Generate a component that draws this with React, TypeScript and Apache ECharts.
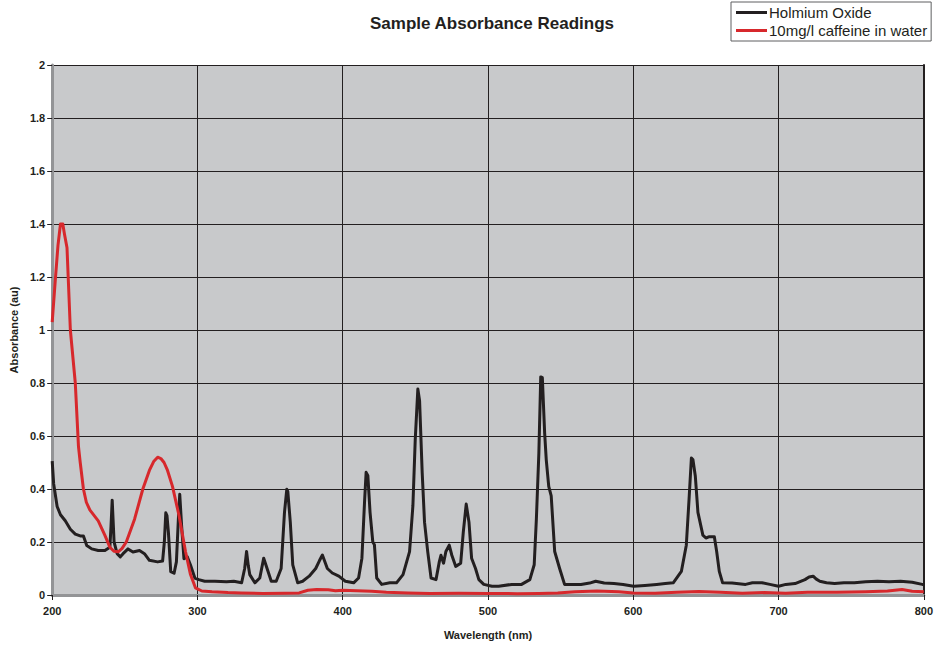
import React, { useEffect, useRef } from "react";
import * as echarts from "echarts";

// Wavelength scans (nm) and absorbance readings (au)
const holmiumNm = [
  200, 201, 203.4, 205.7, 209, 212.5, 215.9, 219.3, 221.5, 223.8, 227.2, 231.7, 236.3, 239.7,
  240.5, 241.3, 242.2, 242.6, 244.7, 246.9, 248.8, 252.2, 255.6, 260.1, 263.5, 266.9, 272.6, 276,
  277.2, 278.2, 279, 280, 281.6, 283.9, 285.5, 286.8, 287.8, 289.1, 290.7, 293, 295.2, 298.2,
  300.9, 305, 312, 320, 325, 330.4, 332.5, 333.8, 335, 336, 339.5, 342.9, 345.6, 348.6, 350.8,
  354.2, 357.6, 359.9, 361.5, 362.2, 363.9, 365.6, 369, 372.4, 376.9, 381.4, 384, 386, 389.4,
  392.8, 397.3, 401.8, 407.5, 410.9, 413.2, 415, 416.1, 417.3, 418.8, 420.7, 421.8, 423.4, 426.8,
  432.4, 437, 441.5, 446, 448.3, 449.9, 451.7, 452.9, 454.7, 456.3, 458.5, 460.8, 464.2, 466.5,
  467.6, 469.4, 471, 473.3, 475.1, 477.8, 481.2, 483, 485, 486.9, 488.7, 491.4, 493.7, 497.1,
  502.7, 507.3, 516.3, 523.1, 528.8, 531.8, 533.3, 535, 536.3, 537.4, 539, 540.1, 541.8, 543.5,
  545.9, 549.3, 552.7, 564, 570, 574.1, 580, 586.7, 593, 600.3, 608, 616.1, 622, 627.5, 633.1,
  636.5, 638.4, 640, 641.1, 642.7, 644.5, 647.9, 650, 652.4, 655.8, 657.4, 659.2, 661.5, 668,
  677.3, 682, 688.7, 694, 700, 705, 711.4, 718.2, 721, 723.8, 726, 728.4, 733, 738.6, 745, 752.2,
  760, 768.1, 776, 784, 792, 798.9, 800,
];
const holmiumAbs = [
  0.505, 0.42, 0.334, 0.303, 0.28, 0.248, 0.23, 0.223, 0.223, 0.187, 0.174, 0.168, 0.168, 0.18,
  0.26, 0.358, 0.25, 0.2, 0.156, 0.144, 0.156, 0.174, 0.162, 0.168, 0.156, 0.131, 0.125, 0.128,
  0.2, 0.31, 0.3, 0.236, 0.088, 0.082, 0.125, 0.28, 0.38, 0.26, 0.137, 0.144, 0.113, 0.064,
  0.058, 0.052, 0.052, 0.05, 0.052, 0.046, 0.1, 0.164, 0.11, 0.077, 0.046, 0.064, 0.139, 0.089, 0.052,
  0.052, 0.1, 0.312, 0.399, 0.39, 0.275, 0.114, 0.046, 0.052, 0.071, 0.1, 0.13, 0.151, 0.1,
  0.083, 0.071, 0.052, 0.046, 0.064, 0.139, 0.35, 0.463, 0.45, 0.312, 0.2, 0.19, 0.064, 0.04,
  0.046, 0.046, 0.077, 0.164, 0.337, 0.585, 0.777, 0.733, 0.461, 0.275, 0.164, 0.064, 0.058, 0.126,
  0.15, 0.12, 0.164, 0.188, 0.15, 0.108, 0.12, 0.238, 0.343, 0.275, 0.139, 0.1, 0.058, 0.04,
  0.033, 0.033, 0.04, 0.04, 0.058, 0.114, 0.287, 0.535, 0.823, 0.82, 0.61, 0.51, 0.41, 0.374,
  0.164, 0.1, 0.04, 0.04, 0.045, 0.052, 0.045, 0.043, 0.04, 0.033, 0.036, 0.04, 0.043, 0.046, 0.089,
  0.188, 0.362, 0.517, 0.51, 0.449, 0.312, 0.226, 0.215, 0.22, 0.22, 0.164, 0.089, 0.046, 0.045,
  0.04, 0.046, 0.046, 0.04, 0.033, 0.04, 0.043, 0.058, 0.068, 0.071, 0.06, 0.052, 0.046, 0.043, 0.046, 0.046,
  0.05, 0.052, 0.05, 0.052, 0.048, 0.04, 0.038,
];

const caffeineNm = [
  200, 202.3, 204, 205.7, 207.3, 208.5, 210.2, 212.5, 215.9, 218.1, 219.3, 221.5, 223.5, 226,
  231.7, 236.3, 239.7, 242.5, 245.4, 248, 251, 256.7, 262.4, 266.9, 270, 272.6, 274.8, 277,
  279.4, 282.8, 287.3, 291.8, 295.2, 298.6, 303, 310, 321, 330, 345, 360, 370, 376, 382, 390,
  395, 400, 410, 420, 430, 445, 460, 480, 500, 520, 535, 548, 560, 575, 590, 600, 615, 630, 645,
  660, 675, 690, 705, 720, 740, 760, 775, 785, 792, 800,
];
const caffeineAbs = [
  1.03, 1.2, 1.32, 1.4, 1.4, 1.36, 1.31, 1.0, 0.8, 0.56, 0.5, 0.4, 0.35, 0.32,
  0.28, 0.225, 0.18, 0.165, 0.163, 0.175, 0.2, 0.286, 0.4, 0.47, 0.505, 0.52, 0.515, 0.5,
  0.47, 0.41, 0.3, 0.163, 0.077, 0.027, 0.015, 0.012, 0.009, 0.008, 0.006, 0.007, 0.008, 0.018, 0.021, 0.02,
  0.016, 0.018, 0.016, 0.014, 0.01, 0.008, 0.006, 0.007, 0.006, 0.005, 0.006, 0.008, 0.012, 0.015, 0.012, 0.008, 0.007, 0.01, 0.013,
  0.01, 0.007, 0.009, 0.007, 0.01, 0.01, 0.012, 0.015, 0.021, 0.014, 0.012,
];

const seriesNames = ["Holmium Oxide", "10mg/l caffeine in water"];
const xTicks = { min: 200, max: 800, interval: 100 };
const yTicks = { min: 0, max: 2, interval: 0.2 };

const FONT = "'Liberation Sans', Arial, Helvetica, sans-serif";
const INK = "#231f20";
const RED = "#d7282c";

const pairs = (xs: number[], ys: number[]) => xs.map((x, i) => [x, ys[i]]);

export default function App() {
  const ref = useRef<HTMLDivElement>(null);

  useEffect(() => {
    if (!ref.current) return;
    const chart = echarts.init(ref.current, null, { renderer: "svg" });
    chart.setOption({
      animation: false,
      backgroundColor: "#ffffff",
      title: {
        text: "Sample Absorbance Readings",
        left: 487,
        textAlign: "center",
        top: 10,
        textStyle: { fontFamily: FONT, fontSize: 17, fontWeight: "bold", color: INK },
      },
      legend: {
        data: seriesNames,
        orient: "vertical",
        left: 731,
        top: 2,
        padding: [3, 4, 3, 5],
        itemGap: 3,
        itemWidth: 31,
        itemHeight: 3,
        icon: "rect",
        borderColor: "#5e5f61",
        borderWidth: 1,
        borderRadius: 0,
        textStyle: { fontFamily: FONT, fontSize: 15, color: INK, padding: [0, 0, 0, -3] },
      },
      grid: {
        left: 49,
        top: 65,
        width: 880,
        height: 539,
        show: true,
        backgroundColor: "#c8c9cb",
        borderWidth: 0,
      },
      xAxis: [
        {
          type: "value",
          position: "bottom",
          ...xTicks,
          name: "Wavelength (nm)",
          nameLocation: "middle",
          nameGap: 34,
          nameTextStyle: { fontFamily: FONT, fontSize: 11, fontWeight: "bold", color: INK },
          axisLine: { show: true, lineStyle: { color: INK, width: 1.5 } },
          axisTick: { show: true, length: 5, lineStyle: { color: INK, width: 1 } },
          axisLabel: {
            margin: 10,
            fontFamily: FONT,
            fontSize: 11,
            fontWeight: "bold",
            color: INK,
          },
          splitLine: { show: true, lineStyle: { color: INK, width: 1 } },
        },
        {
          type: "value",
          position: "top",
          ...xTicks,
          axisLine: { show: true, lineStyle: { color: "#939496", width: 3 } },
          axisTick: { show: false },
          axisLabel: { show: false },
          splitLine: { show: false },
        },
      ],
      yAxis: [
        {
          type: "value",
          position: "left",
          ...yTicks,
          name: "Absorbance (au)",
          nameLocation: "middle",
          nameGap: 33,
          nameTextStyle: { fontFamily: FONT, fontSize: 11, fontWeight: "bold", color: INK },
          axisLine: { show: true, lineStyle: { color: "#939496", width: 3 } },
          axisTick: { show: true, length: 5, lineStyle: { color: INK, width: 1 } },
          axisLabel: {
            margin: 7,
            fontFamily: FONT,
            fontSize: 11,
            fontWeight: "bold",
            color: INK,
          },
          splitLine: { show: true, lineStyle: { color: INK, width: 1 } },
        },
        {
          type: "value",
          position: "right",
          ...yTicks,
          axisLine: { show: true, lineStyle: { color: INK, width: 2 } },
          axisTick: { show: false },
          axisLabel: { show: false },
          splitLine: { show: false },
        },
      ],
      series: [
        {
          name: seriesNames[0],
          type: "line",
          data: pairs(holmiumNm, holmiumAbs),
          showSymbol: false,
          symbol: "none",
          lineStyle: { color: INK, width: 3, join: "round" },
          itemStyle: { color: INK },
        },
        {
          name: seriesNames[1],
          type: "line",
          data: pairs(caffeineNm, caffeineAbs),
          showSymbol: false,
          symbol: "none",
          lineStyle: { color: RED, width: 3, join: "round" },
          itemStyle: { color: RED },
        },
      ],
    });
    return () => chart.dispose();
  }, []);

  return (
    <div
      ref={ref}
      style={{ position: "fixed", left: 0, top: 0, width: 936, height: 645 }}
    />
  );
}
